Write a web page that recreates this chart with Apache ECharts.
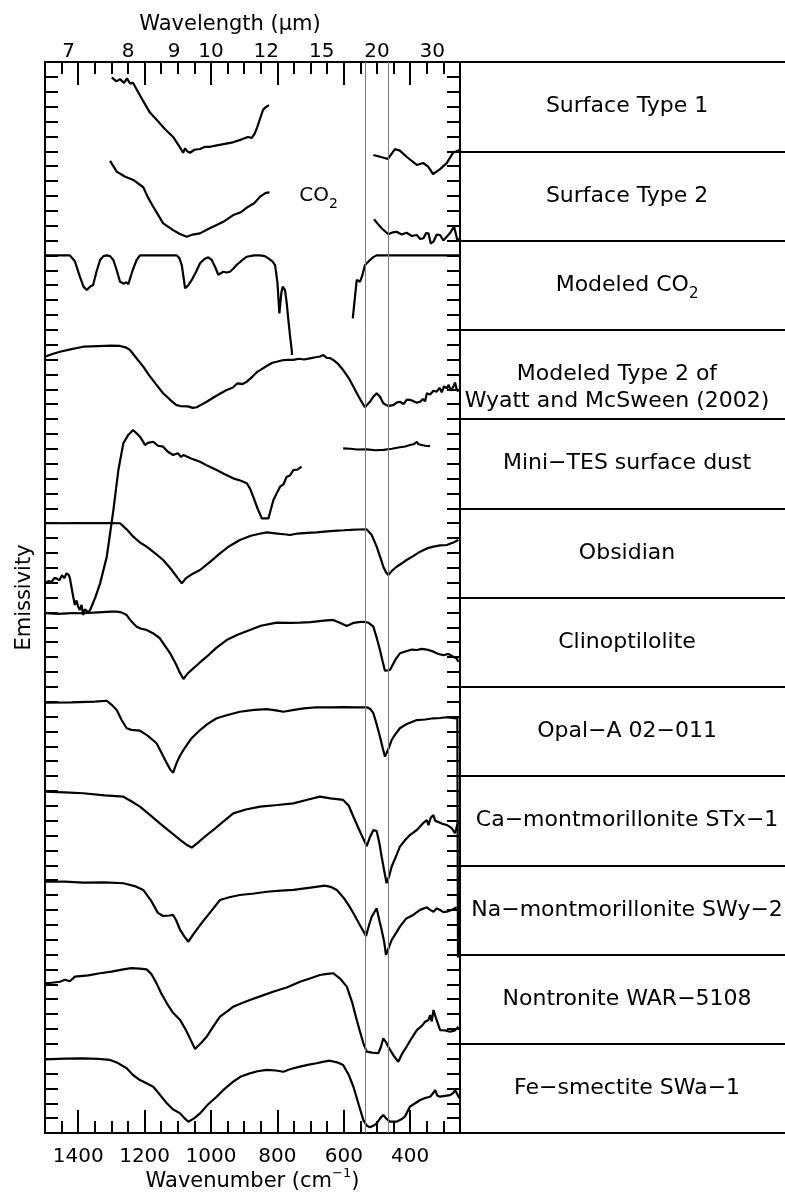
<!DOCTYPE html>
<html>
<head>
<meta charset="utf-8">
<script src="https://cdn.jsdelivr.net/npm/echarts@6/dist/echarts.min.js"></script>
<style>
  html, body { margin: 0; padding: 0; background: #fff; }
  #chart { width: 785px; height: 1192px; }
</style>
</head>
<body>
<div id="chart"></div>
<script>
// axis ticks
var bottomTicks = [1400, 1200, 1000, 800, 600, 400];
var wavelengthTicks = [7, 8, 9, 10, 12, 15, 20, 30];
var guideLines = [534, 466];

// table rows, top to bottom
var rowLabels = [
  'Surface Type 1',
  'Surface Type 2',
  'Modeled CO{s|2}',
  'Modeled Type 2 of\nWyatt and McSween (2002)',
  'Mini\u2212TES surface dust',
  'Obsidian',
  'Clinoptilolite',
  'Opal\u2212A 02\u2212011',
  'Ca\u2212montmorillonite STx\u22121',
  'Na\u2212montmorillonite SWy\u22122',
  'Nontronite WAR\u22125108',
  'Fe\u2212smectite SWa\u22121'
];

// spectra: [wavenumber, offset emissivity]
var surf1A = [[1299,70.97],[1285,70.7],[1274,70.85],[1262,70.6],[1253,70.9],[1244,70.55],[1235,70.6],[1220,70.0],[1205,69.4],[1184,68.6],[1163,68.1],[1139,67.5],[1114,66.96],[1096,66.35],[1084,65.9],[1078,66.2],[1072,66.0],[1063,65.9],[1050,66.1],[1033,66.15],[1018,66.3],[1003,66.3],[982,66.4],[958,66.5],[934,66.6],[907,66.8],[889,66.96],[877,66.9],[868,67.2],[861,67.6],[852,68.2],[843,68.8],[833,69.0],[825,69.1]];
var surf1B = [[511,65.75],[491,65.63],[467,65.48],[446,66.15],[431,66.04],[411,65.63],[380,65.08],[361,65.21],[346,64.96],[331,64.47],[310,64.8],[290,65.2],[271,65.9],[250,66.1]];

var surf2A = [[1304,65.35],[1284,64.63],[1260,64.3],[1234,64.07],[1204,63.58],[1190,62.9],[1174,62.27],[1144,61.15],[1114,60.7],[1095,60.45],[1073,60.25],[1055,60.4],[1033,60.48],[1010,60.75],[983,61.04],[960,61.3],[933,61.71],[910,61.9],[888,62.27],[870,62.5],[852,62.95],[835,63.2],[824,63.24]];
var surf2B = [[509,61.43],[497,61.1],[486,60.82],[466,60.42],[452,60.55],[441,60.59],[426,60.4],[411,60.52],[395,60.3],[380,60.37],[370,60.1],[360,60.15],[352,60.5],[345,60.48],[338,59.8],[330,59.92],[320,60.4],[310,60.37],[300,60.0],[290,60.26],[280,60.5],[268,60.95],[258,60.03],[252,60.1]];

var co2A = [[1500,59.0],[1425,59.0],[1410,58.6],[1395,57.57],[1384,56.9],[1374,56.67],[1364,56.9],[1355,57.01],[1345,57.9],[1334,58.69],[1324,58.95],[1314,59.0],[1304,58.95],[1294,58.69],[1284,58.0],[1274,57.23],[1262,57.1],[1255,57.2],[1249,57.06],[1236,58.0],[1224,58.69],[1214,59.0],[1103,59.0],[1095,58.8],[1088,58.35],[1078,56.79],[1068,57.0],[1058,57.35],[1045,57.9],[1033,58.47],[1020,58.75],[1008,58.87],[998,58.7],[988,58.24],[978,57.7],[973,57.57],[963,57.9],[953,57.85],[943,57.9],[933,58.1],[923,58.35],[905,58.7],[892,58.91],[870,59.0],[852,59.0],[838,58.95],[827,58.8],[815,58.6],[807,58.35],[800,57.2],[794,55.1],[788,56.5],[784,56.9],[777,56.67],[772,55.8],[767,54.66],[762,53.6],[757,52.64],[756,52.3]];
var co2B = [[573,54.77],[565,56.5],[561,57.35],[556,57.3],[551,57.23],[545,57.6],[536,58.35],[521,58.69],[510,58.9],[501,59.0],[250,59.0]];

var wyatt = [[1500,52.19],[1480,52.35],[1455,52.52],[1420,52.7],[1385,52.86],[1340,52.9],[1300,52.93],[1274,52.91],[1255,52.8],[1244,52.64],[1225,52.1],[1204,51.52],[1185,50.9],[1164,50.29],[1145,49.75],[1123,49.29],[1105,48.95],[1093,48.87],[1070,48.85],[1055,48.75],[1043,48.79],[1030,48.95],[1013,49.16],[985,49.55],[965,49.8],[953,49.95],[935,50.1],[920,50.4],[905,50.35],[892,50.51],[875,50.85],[862,51.15],[852,51.29],[830,51.6],[815,51.78],[802,51.85],[785,51.95],[770,51.97],[752,51.97],[735,52.05],[720,52.0],[702,52.08],[685,52.15],[672,52.2],[662,52.3],[650,52.1],[642,52.1],[632,51.97],[617,51.7],[602,51.29],[585,50.75],[571,50.17],[555,49.5],[545,49.1],[536,48.79],[528,49.0],[521,49.16],[511,49.5],[501,49.73],[491,49.5],[481,49.06],[473,48.95],[466,48.87],[450,48.95],[441,49.1],[431,49.16],[420,49.0],[410,49.3],[401,49.29],[390,49.2],[380,49.1],[370,49.16],[362,49.35],[355,49.2],[350,49.73],[340,49.65],[330,49.9],[320,49.84],[312,50.1],[305,49.8],[298,50.2],[290,50.06],[284,50.3],[278,49.9],[270,50.17],[265,50.45],[260,50.0],[255,49.84]];

var dustA = [[1500,36.95],[1490,37.1],[1480,37.05],[1472,37.3],[1465,37.29],[1457,37.15],[1449,37.5],[1442,37.3],[1435,37.63],[1428,37.5],[1425,37.29],[1415,36.05],[1410,35.5],[1405,35.8],[1400,35.38],[1395,35.16],[1390,35.5],[1385,34.82],[1380,35.2],[1377,35.1],[1370,35.0],[1364,35.16],[1349,35.97],[1334,36.95],[1314,38.74],[1294,41.88],[1279,44.57],[1264,46.37],[1250,46.9],[1244,47.04],[1235,47.26],[1229,47.26],[1220,46.95],[1214,46.81],[1205,46.5],[1199,46.25],[1190,46.4],[1174,46.47],[1160,46.2],[1144,46.14],[1130,45.8],[1114,45.58],[1100,45.7],[1090,45.45],[1083,45.58],[1060,45.35],[1033,45.13],[1010,44.85],[983,44.57],[960,44.3],[933,44.01],[910,43.85],[892,43.68],[882,43.3],[873,42.78],[860,42.0],[847,41.32],[835,41.32],[827,41.32],[820,41.9],[812,42.55],[800,43.1],[792,43.45],[782,43.6],[772,44.12],[762,44.2],[752,44.57],[740,44.6],[727,44.79]];
var dustB = [[602,46.03],[580,46.0],[560,45.95],[531,45.96],[505,45.9],[481,45.92],[455,46.0],[431,46.1],[415,46.15],[401,46.25],[390,46.3],[380,46.47],[375,46.3],[370,46.18],[355,46.2],[340,46.18]];

var obsidian = [[1500,40.99],[1400,41.0],[1300,41.0],[1274,40.99],[1255,40.6],[1234,40.09],[1214,39.7],[1194,39.42],[1170,39.0],[1144,38.52],[1120,37.9],[1100,37.3],[1088,36.95],[1075,37.3],[1055,37.6],[1033,37.85],[1000,38.45],[973,38.97],[945,39.45],[913,39.87],[880,40.15],[850,40.3],[832,40.38],[800,40.3],[780,40.25],[762,40.2],[740,40.3],[710,40.35],[682,40.38],[650,40.45],[620,40.5],[600,40.52],[581,40.54],[555,40.57],[531,40.58],[516,40.2],[501,39.42],[490,38.7],[481,38.07],[473,37.7],[466,37.51],[455,37.8],[441,38.07],[425,38.3],[411,38.52],[390,38.8],[370,39.08],[350,39.3],[330,39.42],[310,39.5],[290,39.53],[270,39.7],[255,39.87]];

var clino = [[1500,34.94],[1460,34.9],[1420,34.95],[1385,34.94],[1340,35.0],[1300,35.05],[1284,35.05],[1270,35.0],[1254,34.82],[1240,34.4],[1224,34.04],[1210,33.9],[1194,33.82],[1175,33.6],[1154,33.26],[1140,32.8],[1123,32.25],[1105,31.5],[1095,31.0],[1083,30.52],[1070,30.9],[1053,31.24],[1035,31.6],[1013,32.02],[985,32.6],[953,33.14],[920,33.5],[883,33.82],[850,34.1],[802,34.31],[760,34.3],[732,34.31],[700,34.35],[660,34.45],[632,34.49],[612,34.3],[591,34.08],[570,34.3],[555,34.35],[541,34.37],[525,34.3],[511,34.04],[501,33.3],[491,32.47],[483,31.7],[476,31.08],[468,31.1],[461,31.13],[445,31.8],[431,32.25],[410,32.4],[395,32.5],[380,32.47],[365,32.55],[350,32.5],[330,32.36],[315,32.2],[300,32.13],[285,32.2],[270,32.02],[260,31.9],[255,31.68]];

var opal = [[1500,28.93],[1420,28.95],[1350,29.0],[1314,29.06],[1300,28.8],[1284,28.44],[1270,27.8],[1254,27.21],[1240,27.1],[1214,27.05],[1190,26.7],[1164,26.2],[1150,25.6],[1133,24.86],[1122,24.4],[1114,24.23],[1105,24.8],[1095,25.3],[1083,25.75],[1060,26.5],[1033,27.09],[1010,27.5],[983,27.88],[950,28.1],[913,28.32],[870,28.45],[832,28.5],[800,28.4],[782,28.32],[750,28.45],[720,28.55],[682,28.62],[640,28.62],[600,28.63],[560,28.62],[531,28.62],[520,28.5],[511,28.22],[500,27.4],[491,26.64],[483,25.9],[476,25.3],[466,25.8],[456,26.42],[445,26.8],[431,27.21],[410,27.5],[380,27.76],[355,27.8],[330,27.88],[310,27.9],[290,27.95],[275,27.9],[258,27.88],[256,11.8]];

var caMont = [[1500,22.94],[1440,22.9],[1385,22.84],[1320,22.7],[1264,22.61],[1240,22.3],[1214,21.94],[1185,21.4],[1154,20.82],[1120,20.2],[1093,19.7],[1075,19.4],[1058,19.19],[1040,19.5],[1025,19.8],[1013,20.03],[993,20.37],[965,20.9],[933,21.49],[895,21.75],[852,21.94],[800,22.05],[752,22.16],[710,22.4],[672,22.61],[640,22.5],[602,22.39],[585,22.0],[571,21.26],[550,20.2],[531,19.29],[521,19.9],[511,20.37],[501,20.3],[493,19.5],[486,18.57],[478,17.6],[471,16.79],[463,17.3],[456,17.9],[441,18.7],[431,19.25],[415,19.7],[401,20.03],[380,20.37],[360,20.85],[350,21.04],[345,20.7],[338,21.2],[330,21.38],[325,21.0],[320,20.93],[305,20.8],[290,20.71],[275,20.5],[265,20.15],[256,20.9]];

var naMont = [[1500,16.89],[1440,16.9],[1385,16.83],[1320,16.85],[1264,16.79],[1230,16.6],[1204,16.34],[1180,15.6],[1160,14.8],[1144,14.59],[1125,14.62],[1114,14.66],[1105,14.3],[1093,13.65],[1080,13.2],[1068,12.86],[1055,13.3],[1033,13.98],[1000,14.9],[973,15.66],[945,15.85],[913,16.0],[870,16.1],[832,16.22],[790,16.3],[752,16.34],[700,16.5],[657,16.63],[640,16.55],[621,16.34],[600,15.8],[585,15.3],[571,14.77],[552,14.0],[533,13.24],[525,13.9],[516,14.54],[501,15.11],[493,14.3],[486,13.65],[478,12.8],[473,11.97],[464,12.5],[456,12.97],[441,13.5],[431,13.87],[413,14.4],[391,14.66],[370,15.0],[350,15.17],[340,15.0],[330,14.88],[320,15.1],[310,14.99],[300,14.85],[290,14.88],[275,15.0],[260,15.17]];

var nontronite = [[1500,10.06],[1480,10.1],[1455,10.17],[1440,10.3],[1425,10.2],[1410,10.51],[1370,10.6],[1334,10.74],[1300,10.85],[1264,11.0],[1240,11.08],[1215,11.05],[1194,11.0],[1180,10.7],[1164,10.06],[1150,9.4],[1133,8.72],[1115,8.1],[1093,7.6],[1075,6.9],[1060,6.2],[1048,5.65],[1030,6.05],[1013,6.47],[995,7.1],[973,7.82],[950,8.2],[933,8.49],[910,8.7],[883,8.94],[850,9.2],[813,9.5],[770,9.8],[732,10.17],[700,10.4],[672,10.62],[650,10.7],[632,10.74],[612,10.4],[591,9.84],[575,8.8],[561,7.6],[551,6.8],[541,6.03],[531,5.47],[515,5.4],[496,5.36],[488,5.8],[481,6.37],[473,6.1],[466,5.8],[450,5.2],[436,4.79],[425,5.3],[411,5.8],[395,6.4],[380,6.92],[365,7.2],[355,7.48],[345,7.6],[340,7.93],[335,7.5],[330,8.27],[322,7.7],[310,6.92],[295,6.9],[280,6.81],[265,6.9],[255,7.15]];

var feSmect = [[1500,4.95],[1440,5.0],[1385,5.02],[1340,4.98],[1304,4.91],[1280,4.7],[1254,4.35],[1235,3.9],[1214,3.56],[1190,3.3],[1174,3.11],[1155,2.6],[1133,2.0],[1115,1.6],[1093,1.32],[1080,1.0],[1068,0.76],[1050,1.0],[1033,1.32],[1010,1.9],[983,2.44],[960,2.95],[933,3.45],[910,3.8],[883,4.01],[860,4.15],[832,4.24],[805,4.2],[782,4.12],[760,4.3],[732,4.46],[705,4.6],[682,4.69],[660,4.8],[642,4.86],[620,4.75],[602,4.57],[585,3.9],[571,3.11],[555,1.9],[541,0.87],[531,0.5],[521,0.38],[510,0.5],[501,0.65],[490,1.0],[481,1.21],[471,0.95],[461,0.76],[441,0.76],[428,0.9],[416,1.1],[401,1.77],[385,2.0],[370,2.22],[355,2.35],[340,2.44],[330,2.7],[325,2.89],[318,2.5],[310,2.44],[295,2.5],[280,2.55],[270,2.7],[265,2.89],[258,2.6],[252,2.33]];

var spectra = [
  [surf1A, surf1B],
  [surf2A, surf2B],
  [co2A, co2B],
  [wyatt],
  [dustA, dustB],
  [obsidian],
  [clino],
  [opal],
  [caMont],
  [naMont],
  [nontronite],
  [feSmect]
];

var co2Note = [[676, 63.0]];

var font = 'DejaVu Sans';
var ink = '#000';

var chart = echarts.init(document.getElementById('chart'), null, { renderer: 'canvas' });

var series = [];
spectra.forEach(function (parts) {
  parts.forEach(function (seg) {
    series.push({
      type: 'line',
      xAxisIndex: 0,
      yAxisIndex: 0,
      data: seg,
      showSymbol: false,
      symbol: 'none',
      silent: true,
      lineStyle: { color: ink, width: 2.2 },
      z: 3
    });
  });
});

// thin grey guide lines
series[0].markLine = {
  silent: true,
  symbol: ['none', 'none'],
  label: { show: false },
  lineStyle: { color: '#7a7a7a', width: 1, type: 'solid' },
  data: guideLines.map(function (v) { return { xAxis: v }; })
};

series.push({
  type: 'scatter',
  xAxisIndex: 0,
  yAxisIndex: 0,
  data: co2Note,
  symbolSize: 0,
  silent: true,
  itemStyle: { opacity: 1 },
  label: {
    show: true,
    position: 'inside',
    formatter: 'CO{s|2}',
    color: ink,
    opacity: 1,
    fontFamily: font,
    fontSize: 20,
    rich: { s: { fontSize: 14, lineHeight: 30, verticalAlign: 'bottom', fontFamily: font, color: ink } }
  }
});

// table text
series.push({
  type: 'scatter',
  xAxisIndex: 4,
  yAxisIndex: 2,
  symbolSize: 0,
  silent: true,
  itemStyle: { opacity: 1 },
  data: rowLabels.map(function (r) {
    var two = r.indexOf('\n') >= 0;
    return {
      value: [two ? 0.483 : 0.514, r],
      label: two ? { offset: [0, 13] } : undefined
    };
  }),
  label: {
    show: true,
    position: 'inside',
    formatter: function (p) { return p.value[1]; },
    color: ink,
    opacity: 1,
    fontFamily: font,
    fontSize: 22,
    lineHeight: 27,
    align: 'center',
    rich: { s: { fontSize: 15, lineHeight: 32, verticalAlign: 'bottom', fontFamily: font, color: ink } }
  }
});

function xBase(pos) {
  return {
    type: 'value',
    gridIndex: 0,
    position: pos,
    min: 250,
    max: 1500,
    inverse: true,
    splitLine: { show: false }
  };
}

var xMinorBottom = Object.assign(xBase('bottom'), {
  interval: 50,
  axisLine: { show: true, onZero: false, lineStyle: { color: ink, width: 2 } },
  axisTick: { show: true, inside: true, length: 12, lineStyle: { color: ink, width: 2 } },
  axisLabel: {
    show: true, customValues: bottomTicks,
    formatter: function (v) { return String(v); },
    color: ink, fontFamily: font, fontSize: 20, margin: 14
  },
  name: 'Wavenumber (cm{sup|\u22121})',
  nameLocation: 'middle',
  nameGap: 34,
  nameMoveOverlap: false,
  nameTextStyle: {
    color: ink, fontFamily: font, fontSize: 21,
    rich: { sup: { fontSize: 13, lineHeight: 30, verticalAlign: 'top', fontFamily: font, color: ink } }
  }
});
var xMajorBottom = Object.assign(xBase('bottom'), {
  axisLine: { show: false, onZero: false },
  axisTick: { show: true, inside: true, length: 23, customValues: bottomTicks, lineStyle: { color: ink, width: 2 } },
  axisLabel: { show: false }
});
var xMinorTop = Object.assign(xBase('top'), {
  interval: 50,
  axisLine: { show: true, onZero: false, lineStyle: { color: ink, width: 2 } },
  axisTick: { show: true, inside: true, length: 12, lineStyle: { color: ink, width: 2 } },
  axisLabel: {
    show: true,
    customValues: wavelengthTicks.map(function (l) { return 10000 / l; }),
    formatter: function (v) { return String(Math.round(10000 / v)); },
    color: ink, fontFamily: font, fontSize: 20, margin: 0
  },
  name: 'Wavelength (\u03bcm)',
  nameLocation: 'middle',
  nameGap: 27,
  nameTextStyle: { color: ink, fontFamily: font, fontSize: 21, padding: [0, 45, 0, 0] }
});
var xMajorTop = Object.assign(xBase('top'), {
  axisLine: { show: false, onZero: false },
  axisTick: { show: true, inside: true, length: 23, customValues: bottomTicks, lineStyle: { color: ink, width: 2 } },
  axisLabel: { show: false }
});

function yFrame(pos) {
  return {
    type: 'value',
    gridIndex: 0,
    position: pos,
    min: 0,
    max: 72,
    interval: 1,
    axisLine: { show: true, onZero: false, lineStyle: { color: ink, width: 2 } },
    axisTick: { show: true, inside: true, length: 13, lineStyle: { color: ink, width: 2 } },
    axisLabel: { show: false },
    splitLine: { show: false }
  };
}
var yLeft = Object.assign(yFrame('left'), {
  name: 'Emissivity',
  nameLocation: 'middle',
  nameGap: 10,
  nameTextStyle: { color: ink, fontFamily: font, fontSize: 21 }
});
var yRight = yFrame('right');

var option = {
  animation: false,
  backgroundColor: '#fff',
  grid: [
    { left: 45, top: 62, width: 415, height: 1071, containLabel: false, outerBoundsMode: 'none' },
    { left: 460, top: 62, width: 325, height: 1071, containLabel: false, outerBoundsMode: 'none' }
  ],
  xAxis: [
    xMinorBottom, xMajorBottom, xMinorTop, xMajorTop,
    { type: 'value', gridIndex: 1, min: 0, max: 1, show: false }
  ],
  yAxis: [
    yLeft, yRight,
    {
      type: 'category',
      gridIndex: 1,
      inverse: true,
      data: rowLabels,
      axisLine: { show: false },
      axisTick: { show: false },
      axisLabel: { show: false },
      splitLine: { show: true, interval: 0, lineStyle: { color: ink, width: 2 } }
    }
  ],
  series: series
};

chart.setOption(option);
</script>
</body>
</html>
